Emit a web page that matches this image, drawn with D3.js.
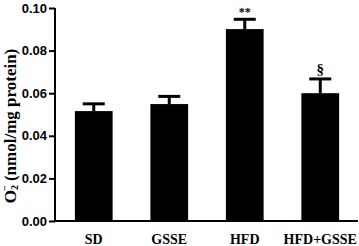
<!DOCTYPE html>
<html><head><meta charset="utf-8">
<script src="https://cdn.jsdelivr.net/npm/d3@7"></script>
<style>body{margin:0;background:#fff}svg{display:block}</style>
</head><body>
<script>
const categories = ["SD", "GSSE", "HFD", "HFD+GSSE"];
const values = [0.0516, 0.0549, 0.0901, 0.0600];
const errors = [0.0034, 0.0036, 0.0046, 0.0067];
const marks = ["", "", "**", "§"];
const yTicks = [0.00, 0.02, 0.04, 0.06, 0.08, 0.10];

const W = 359, H = 246;
const svg = d3.select("body").append("svg").attr("width", W).attr("height", H);

const x = d3.scaleBand().domain(categories).range([56, 358]).paddingInner(0.5).paddingOuter(0.25);
const y = d3.scaleLinear().domain([0, 0.10]).range([221, 8]);

// bars
svg.selectAll("rect.bar").data(categories).enter().append("rect")
  .attr("x", d => x(d)).attr("width", x.bandwidth())
  .attr("y", (d, i) => y(values[i])).attr("height", (d, i) => y(0) - y(values[i]))
  .attr("fill", "#000");

// error bars
const eg = svg.append("g").attr("stroke", "#000").attr("stroke-width", 3);
categories.forEach((c, i) => {
  const cx = x(c) + x.bandwidth() / 2;
  eg.append("line").attr("x1", cx).attr("x2", cx).attr("y1", y(values[i])).attr("y2", y(values[i] + errors[i]));
  eg.append("line").attr("x1", cx - 11).attr("x2", cx + 11).attr("y1", y(values[i] + errors[i])).attr("y2", y(values[i] + errors[i]));
});

// significance marks
svg.selectAll("text.mark").data(categories).enter().append("text")
  .attr("x", d => x(d) + x.bandwidth() / 2)
  .attr("y", (d, i) => y(values[i] + errors[i]) - (marks[i] === "**" ? 3 : 5))
  .attr("text-anchor", "middle")
  .attr("font-family", "Liberation Serif, Times New Roman, serif")
  .attr("font-weight", "bold")
  .attr("font-size", (d, i) => marks[i] === "**" ? 12 : 15)
  .text((d, i) => marks[i]);

// y axis
const yAxis = d3.axisLeft(y).tickValues(yTicks).tickFormat(d3.format(".2f")).tickSize(6).tickPadding(2);
const gy = svg.append("g").attr("transform", "translate(55,0)").call(yAxis);
gy.select(".domain").attr("stroke-width", 2).attr("d", "M0," + y(0.10) + "V" + y(0));
gy.selectAll(".tick line").attr("stroke-width", 2);
gy.selectAll(".tick text").attr("font-family", "Liberation Sans, Arial, sans-serif")
  .attr("font-weight", "bold").attr("font-size", 13).attr("fill", "#000");

// x axis
const xAxis = d3.axisBottom(x).tickSize(0).tickPadding(13);
const gx = svg.append("g").attr("transform", "translate(0,221)").call(xAxis);
gx.select(".domain").attr("stroke-width", 2).attr("d", "M55,0H358");
gx.selectAll(".tick text").attr("font-family", "Liberation Serif, Times New Roman, serif")
  .attr("font-weight", "bold").attr("font-size", 14).attr("fill", "#000");

// y label
const yl = svg.append("text")
  .attr("transform", "translate(16,126) rotate(-90)")
  .attr("text-anchor", "middle")
  .attr("font-family", "Liberation Serif, Times New Roman, serif")
  .attr("font-weight", "bold").attr("font-size", 17).attr("fill", "#000");
yl.append("tspan").text("O");
yl.append("tspan").attr("font-size", 10).attr("dy", 2).text("2");
yl.append("tspan").attr("font-size", 10).attr("dy", -10).attr("dx", -6).text("−");
yl.append("tspan").attr("dy", 8).text(" (nmol/mg protein)");
</script>
</body></html>
